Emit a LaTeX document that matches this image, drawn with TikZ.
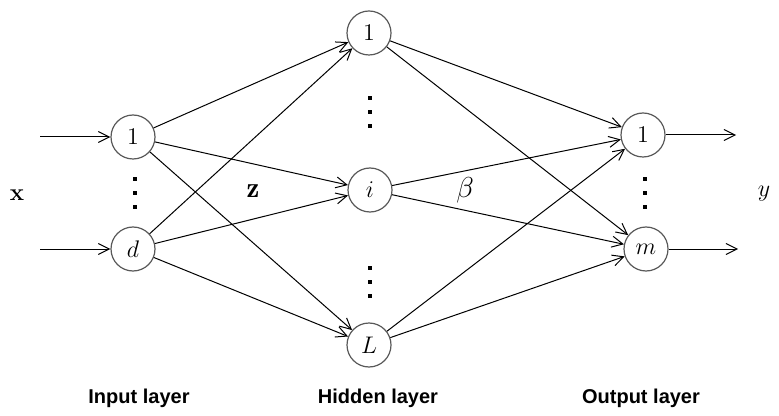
\documentclass[tikz,border=0pt]{standalone}
\usepackage{fontspec}
\newfontfamily\labelfont{Liberation Sans}
\usetikzlibrary{arrows.meta}

\tikzset{
    neuron/.style={circle, draw=black!65, line width=0.6pt, fill=white,
        minimum size=22pt, inner sep=0pt, font=\large},
    link/.style={line width=0.5pt, -{Straight Barb[length=5.5pt,width=5.5pt]}},
    layername/.style={font=\labelfont\bfseries}
}

\begin{document}
\begin{tikzpicture}[x=0.5pt, y=-0.5pt]

    \useasboundingbox (0,0) rectangle (779,416);

        % Input layer
        \node[neuron] (in1) at (133,137) {$1$};
        \node[neuron] (ind) at (133,249) {$d$};

        % Hidden layer
        \node[neuron] (hid1) at (369,33) {$1$};
        \node[neuron] (hidi) at (370,190) {$i$};
        \node[neuron] (hidL) at (369,345) {$L$};

        % Output layer
        \node[neuron] (out1) at (643,135) {$1$};
        \node[neuron] (outm) at (646,249) {$m$};

        % Free ends of the input and output arrows
        \coordinate (xin1) at (40,137);
        \coordinate (xind) at (40,249);
        \coordinate (yout1) at (736,135);
        \coordinate (youtm) at (738,249);

        \draw[link] (xin1) -- (in1);
        \draw[link] (xind) -- (ind);
        \draw[link] (out1) -- (yout1);
        \draw[link] (outm) -- (youtm);

        % Weights z and beta
        \foreach \a in {in1,ind}
            \foreach \b in {hid1,hidi,hidL}
                \draw[link] (\a) -- (\b);
        \foreach \a in {hid1,hidi,hidL}
            \foreach \b in {out1,outm}
                \draw[link] (\a) -- (\b);

        % Vertical dots
        \foreach \cx/\cy in {135/193, 370/112, 370/282, 645/193}
            \foreach \dy in {-14,0,14}
                \fill (\cx-1.6,\cy+\dy-1.6) rectangle ++(3.2,3.2);

        % Labels
        \node (xlab) at (17,195) {\large\bfseries x};
        \node (ylab) at (764,194) {\large$y$};
        \node (zlab) at (253,191) {\Large$\mathbf{z}$};
        \node (betalab) at (465,190) {\Large$\beta$};

        \node[layername] (inname) at (139,398) {Input layer};
        \node[layername] (hidname) at (378,398) {Hidden layer};
        \node[layername] (outname) at (641,398) {Output layer};

    \end{tikzpicture}
\end{document}
